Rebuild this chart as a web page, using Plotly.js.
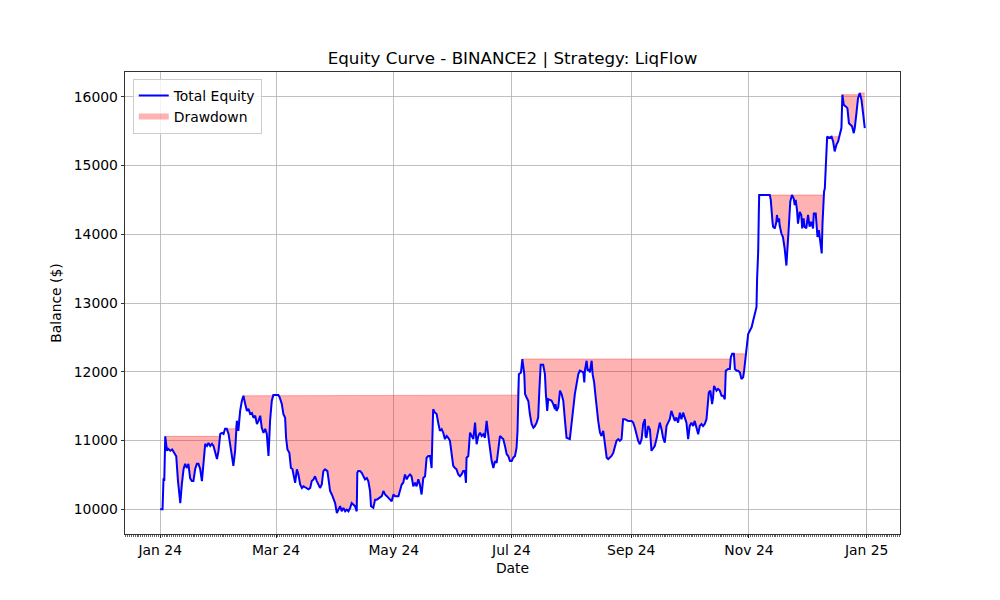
<!DOCTYPE html>
<html>
<head>
<meta charset="utf-8">
<script src="https://cdn.plot.ly/plotly-3.0.1.min.js"></script>
<style>html,body{margin:0;padding:0;background:#fff;}#chart{width:1000px;height:600px;}</style>
</head>
<body>
<div id="chart"></div>
<script>
// Days since 2024-01-01
const dayOffset = [0,1.2,1.7,2.1,2.6,3.5,4.1,5.2,6.2,7.2,8.3,9.2,10.4,11.2,12.1,12.9,13.8,14.6,15.5,16.4,17.2,18.1,19,19.8,20.7,21.6,22.4,23.3,24.2,25,25.9,26.8,27.6,28.5,29.4,30.2,31.1,32,32.8,33.6,34.5,35.4,36.2,37.1,37.9,38.8,39.7,40.5,41.4,42.3,43.1,44,44.9,45.7,46.6,47.5,48.3,49.2,50.1,50.9,51.8,52.6,53.5,54.4,55.2,56.1,56.9,57.8,58.6,61.2,61.8,
63,63.8,64.7,65.2,65.9,66.9,67.7,68.5,69.4,69.9,70.8,71.6,72.5,73.4,74.2,76,76.8,77.7,78.5,79.4,80.2,81.1,82,82.8,83.7,84.5,85.4,86.6,87.1,88,88.9,89.7,90.6,91.5,92.3,93.2,94,94.9,95.8,96.6,97.5,98.4,99.2,100.1,100.9,101.8,102.1,102.6,103.5,104.4,105.2,106.1,107,107.8,108.7,109.2,110.4,111.3,112.2,113.9,114.8,115.6,116.5,117.4,118.2,119.1,119.9,120.8,121.7,123.4,124.2,125.1,125.9,126.8,127.7,128.5,129.4,130.2,131.1,132,132.8,133.7,134.5,135.4,136.3,137.2,138,138.9,139.8,140.6,140.9,141.4,142.3,143.2,144,144.9,145.8,146.6,147.5,148.4,149.2,150.1,151,151.8,152.7,153.5,154.4,155.3,156.1,157,157.8,158.4,158.7,159.6,160.5,161.3,162.2,163.1,163.9,164.8,165.7,166.5,167.4,168.2,169.1,170,170.8,171.7,172.6,173.4,174.3,175.2,176,176.9,177.7,178.6,179.5,180.3,181.2,182.1,182.9,183.8,184.6,185.1,185.8,186.9,187.6,188.6,189,189.8,190.7,191.5,192.4,193.3,194.1,195,195.8,196.4,197.1,198.4,199.3,199.8,200.5,201,202.7,203.6,204.5,204.8,205.3,206.2,207.1,207.9,208.8,209.7,210.5,212.2,213.1,214.8,216.6,217.4,219.2,219.7,220,220.9,221.4,222.1,222.6,223.5,224,224.8,225.5,226,226.9,227.8,228.6,229.5,230.4,231.3,232.1,233,233.8,234.7,235.5,236.4,237.3,238.1,239,239.8,240.7,242.4,244.2,245,245.9,246.8,247.6,248.5,249.4,250.2,251.1,251.4,251.9,252.8,253.7,254.5,255.4,256.2,257.1,258,258.8,259.7,260.5,261.4,262.3,263.1,264,264.8,265.7,266.6,267.4,268.3,269.2,270,270.9,271.8,272.6,273.5,274.3,275.2,276.1,276.9,277.8,278.7,279.5,280.4,281.2,282.1,283,283.5,284.2,285,285.9,286.4,286.9,288.2,289,289.9,290.8,291.6,292.5,293,294.2,295.1,295.6,296.3,297.2,297.7,298.6,299.4,300.3,301.1,302,302.5,302.9,303.4,303.8,304.6,305.5,306.4,307.2,308.1,308.9,309.2,309.8,310.1,310.3,313.2,315.8,316.3,316.6,317.2,317.5,318.4,319.2,319.5,320,320.6,320.9,321.8,322.6,323.5,324.4,324.9,325.7,326.4,327.3,328.2,328.7,329.2,329.9,330.4,331.3,332.1,332.6,333.3,333.8,334.7,335.6,336.4,337.3,338.2,338.6,339.6,339.9,340.5,341.2,341.7,342.2,342.7,343.1,343.4,343.9,344.3,344.8,345.2,345.5,346.5,347.8,348.6,349.4,350.3,351.2,352,352.9,353.4,354.1,355.1,356,356.8,357.7,358.4,359.3,359.8,360.7,361.5,362.4,363.3,364.1,365];

const equity = [10000,10000,10450,10410,11060,10850,10880,10850,10870,10820,10770,10410,10090,10365,10585,10660,10600,10660,10450,10410,10410,10585,10660,10660,10585,10410,10660,10950,10920,10965,10920,10950,10920,10820,10730,10850,11095,11110,11095,11170,11170,11095,10950,10800,10630,10850,11285,11140,11430,11580,11650,11535,11430,11460,11385,11400,11330,11360,11240,11285,11360,11185,11110,11170,11095,10775,11285,11580,11660,11660,11635,
11530,11385,11330,11040,10870,10820,10600,10585,10455,10385,10580,10505,10360,10310,10335,10310,10290,10310,10410,10435,10480,10410,10360,10310,10360,10555,10580,10555,10455,10265,10215,10165,10090,9945,9995,10045,9970,10020,9970,9995,9970,10020,10090,10070,10045,9970,10530,10555,10555,10530,10480,10435,10455,10410,10265,10045,10020,10140,10140,10165,10190,10265,10215,10190,10165,10140,10115,10215,10190,10190,10265,10360,10385,10505,10435,10480,10505,10480,10335,10385,10335,10435,10360,10215,10455,10480,10750,10775,10775,10600,10945,11455,11405,11385,11260,11140,11165,11115,11020,11065,11040,10995,10800,10630,10600,10580,10505,10480,10505,10555,10555,10385,10750,10775,11115,11065,11020,11260,10945,11065,11115,11065,11090,11040,11285,11065,10895,10700,10600,10700,10675,10920,11065,11040,11020,10920,10800,10775,10700,10700,10750,10775,10895,11140,11965,11990,12185,11965,11675,11625,11575,11385,11240,11185,11210,11260,11335,11725,12100,12100,11965,11675,11430,11600,11580,11530,11455,11530,11430,11480,11725,11675,11580,11285,11040,11020,11240,11675,11965,12015,11990,11845,12015,12160,12015,12040,11990,12160,11965,11845,11650,11480,11285,11115,11065,11140,10945,10750,10730,10750,10775,10820,10895,10995,11020,10995,11020,11310,11310,11285,11285,11260,11185,11065,10995,10945,11020,11240,11310,11065,11040,11210,11160,10850,10895,10920,11020,11140,11260,11165,11040,10970,11210,11260,11310,11430,11360,11285,11335,11260,11405,11310,11405,11310,11260,11020,11210,11260,11210,11285,11165,11090,11210,11240,11210,11240,11310,11530,11700,11725,11530,11625,11795,11725,11750,11725,11650,11650,11600,12015,12040,12040,12210,12260,12260,12040,12015,12015,11990,11895,11920,12015,12135,12260,12380,12550,12600,12650,12745,12845,12940,13330,13765,14300,14570,14570,14570,14500,14350,14180,14110,14085,14180,14280,14180,14230,14130,14010,13960,13790,13545,13740,14130,14475,14570,14520,14425,14500,14350,14155,14325,14280,14085,14230,14110,14085,14280,14110,14180,14085,14300,14300,14110,13960,14060,13915,13840,13720,14155,14475,14620,14665,14985,15080,15420,15400,15420,15350,15205,15300,15350,15445,15545,16030,15885,15860,15835,15615,15590,15570,15470,15545,15765,15980,16055,15955,15765,15545];

const xTickVals = ['2024-01-01','2024-03-01','2024-05-01','2024-07-01','2024-09-01','2024-11-01','2025-01-01'];
const xTickText = ['Jan 24','Mar 24','May 24','Jul 24','Sep 24','Nov 24','Jan 25'];
const yTickVals = [10000,11000,12000,13000,14000,15000,16000];

const base = Date.UTC(2024,0,1);
const dates = dayOffset.map(d => new Date(base + d*86400000).toISOString().slice(0,19).replace('T',' '));
const peak = [];
let m = -Infinity;
for (const v of equity) { m = Math.max(m, v); peak.push(m); }

const font = 'DejaVu Sans, sans-serif';
const traces = [
  {x: dates, y: peak, mode: 'lines', line: {color: 'rgba(255,0,0,0.3)', width: 1}, showlegend: false, hoverinfo: 'skip'},
  {x: dates, y: equity, mode: 'none', fill: 'tonexty', fillcolor: 'rgba(255,0,0,0.3)', name: 'Drawdown', legendrank: 2},
  {x: dates, y: equity, mode: 'lines', line: {color: '#0000ff', width: 2}, name: 'Total Equity', legendrank: 1}
];

const layout = {
  width: 1000, height: 600,
  margin: {l: 125, r: 100, t: 72, b: 66},
  paper_bgcolor: '#ffffff', plot_bgcolor: '#ffffff',
  font: {family: font, size: 13.9, color: '#000'},
  title: {text: 'Equity Curve - BINANCE2 | Strategy: LiqFlow', font: {family: font, size: 16.7, color: '#000'}, x: 0.5125, xanchor: 'center', y: 0.903, yanchor: 'middle'},
  xaxis: {
    type: 'date',
    range: ['2023-12-13 18:00', '2025-01-18 06:00'],
    tickvals: xTickVals, ticktext: xTickText,
    ticks: 'outside', ticklen: 3.5, tickwidth: 0.8, tickcolor: '#000',
    showgrid: true, gridcolor: '#b0b0b0', gridwidth: 0.8,
    showline: true, linecolor: '#000', linewidth: 0.8, mirror: true,
    zeroline: false,
    minor: {dtick: 86400000, tick0: '2024-01-01', ticks: 'outside', ticklen: 2, tickwidth: 0.6, tickcolor: '#000', showgrid: false},
    tickfont: {family: font, size: 13.9, color: '#000'},
    title: {text: 'Date', font: {family: font, size: 13.9, color: '#000'}, standoff: 6}
  },
  yaxis: {
    range: [9640, 16360],
    tickvals: yTickVals, tickformat: 'd',
    ticks: 'outside', ticklen: 3.5, tickwidth: 0.8, tickcolor: '#000',
    showgrid: true, gridcolor: '#b0b0b0', gridwidth: 0.8,
    showline: true, linecolor: '#000', linewidth: 0.8, mirror: true,
    zeroline: false,
    tickfont: {family: font, size: 13.9, color: '#000'},
    title: {text: 'Balance ($)', font: {family: font, size: 13.9, color: '#000'}, standoff: 8}
  },
  legend: {
    x: 0.01, y: 0.985, xanchor: 'left', yanchor: 'top',
    traceorder: 'normal',
    bgcolor: 'rgba(255,255,255,0.8)', bordercolor: '#cccccc', borderwidth: 1,
    font: {family: font, size: 13.9, color: '#000'},
    tracegroupgap: 0
  },
  showlegend: true
};

Plotly.newPlot('chart', traces, layout, {staticPlot: true, displayModeBar: false});
</script>
</body>
</html>
